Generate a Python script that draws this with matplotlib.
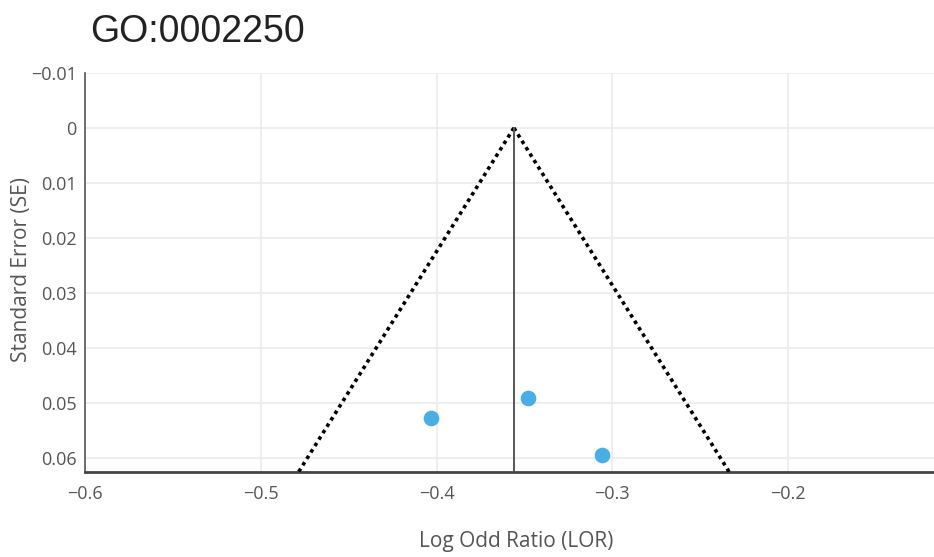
import matplotlib
matplotlib.use("Agg")
from matplotlib import pyplot as plt

# Данные воронкообразной диаграммы
TITLE = "GO:0002250"
lor = [-0.403, -0.348, -0.306]
se = [0.0527, 0.0491, 0.0595]
pooled_lor = -0.356
funnel_se = [0.0, 0.0625]
z = 1.96
x_ticks = [-0.6, -0.5, -0.4, -0.3, -0.2]
y_ticks = [-0.01, 0, 0.01, 0.02, 0.03, 0.04, 0.05, 0.06]

GRID = "#ebebeb"
TEXT = "#555555"

fig = plt.figure(figsize=(9.34, 5.57), dpi=100)
ax = fig.add_axes([0.091, 0.1526, 0.909, 0.7165])

ax.set_xlim(-0.6, -0.117)
ax.set_ylim(0.0625, -0.01)

ax.set_xticks(x_ticks, [f"{t:g}".replace("-", "\u2212") for t in x_ticks])
ax.set_yticks(y_ticks, [f"{t:g}".replace("-", "\u2212") for t in y_ticks])
ax.grid(True, color=GRID, linewidth=1.2)
ax.set_axisbelow(True)
ax.tick_params(length=0, labelsize=13, labelcolor=TEXT)
ax.tick_params(axis="x", pad=9)
ax.tick_params(axis="y", pad=6)
for lbl in ax.get_xticklabels() + ax.get_yticklabels():
    lbl.set_family("Open Sans")

for side in ("top", "right"):
    ax.spines[side].set_visible(False)
ax.spines["left"].set_color("#555555")
ax.spines["left"].set_linewidth(1.2)
ax.spines["bottom"].set_color("#444444")
ax.spines["bottom"].set_linewidth(2)

# границы доверительной области
for sign in (-1, 1):
    ax.plot([pooled_lor + sign * z * s for s in funnel_se], funnel_se,
            color="black", linestyle=(0, (1, 1.1)), linewidth=2.6,
            zorder=3)
ax.plot([pooled_lor, pooled_lor], funnel_se, color="#555555",
        linewidth=1.4, zorder=3)

ax.scatter(lor, se, s=105, color="#48aee6", zorder=4, clip_on=False)

# подписи осей вручную, чтобы не обрезались
fig.text(516 / 934, 1 - 542 / 557, "Log Odd Ratio (LOR)", fontsize=15,
         color=TEXT, family="Open Sans", ha="center", va="center")
fig.text(22 / 934, 1 - 269 / 557, "Standard Error (SE)", fontsize=15,
         color=TEXT, family="Open Sans", ha="center", va="center",
         rotation=90)
fig.text(0.096, 0.925, TITLE, fontsize=27, color="#222222",
         family="Liberation Sans", va="baseline")

fig.savefig("out.png", dpi=100)
